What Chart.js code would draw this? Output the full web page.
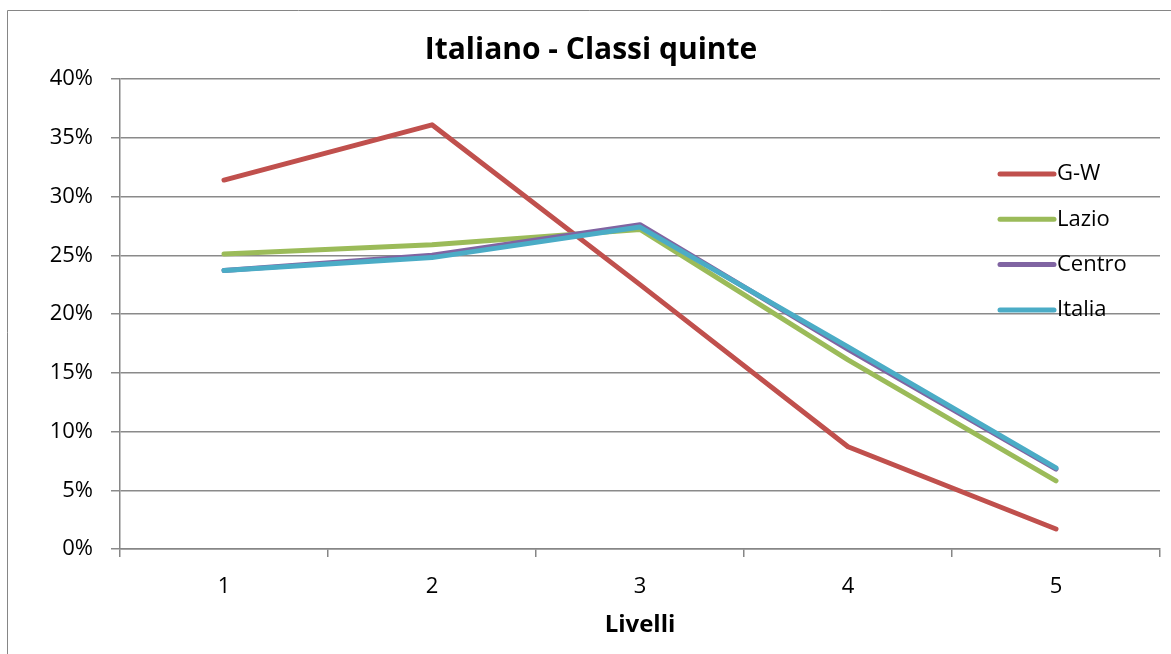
<!DOCTYPE html>
<html>
<head>
<meta charset="utf-8">
<title>Italiano - Classi quinte</title>
<script src="https://cdn.jsdelivr.net/npm/chart.js@4/dist/chart.umd.min.js"></script>
<style>
  html, body { margin: 0; padding: 0; background: #fff; }
  #wrap { position: relative; width: 1171px; height: 654px; }
</style>
</head>
<body>
<div id="wrap"><canvas id="stage"></canvas></div>
<script>
// dati (percentuali)
var livelli = ['1', '2', '3', '4', '5'];
var nomiSerie = ['G-W', 'Lazio', 'Centro', 'Italia'];
var datiGW = [31.4, 36.1, 22.5, 8.7, 1.7];
var datiLazio = [25.1, 25.9, 27.2, 16.1, 5.8];
var datiCentro = [23.7, 25.0, 27.6, 17.0, 6.8];
var datiItalia = [23.7, 24.8, 27.4, 17.2, 6.9];
var tickY = [0, 5, 10, 15, 20, 25, 30, 35, 40];

var colori = ['#C0504D', '#9BBB59', '#8064A2', '#4BACC6'];
var serie = [datiGW, datiLazio, datiCentro, datiItalia];
var FONT = 'Open Sans';

var datasets = serie.map(function(d, i) {
  return {
    label: nomiSerie[i],
    data: d,
    borderColor: colori[i],
    backgroundColor: colori[i],
    borderWidth: 5,
    pointRadius: 0,
    pointHoverRadius: 0,
    tension: 0,
    borderCapStyle: 'round',
    borderJoinStyle: 'round',
    order: serie.length - i   // Italia sopra
  };
});

// cornice grigia + legenda dentro l'area del grafico
var cornice = {
  id: 'cornice',
  afterLayout: function(chart) {
    // titolo un po' spostato a destra come nell'originale
    if (chart.titleBlock) { chart.titleBlock.left = 22; }
  },
  beforeDraw: function(chart) {
    var ctx = chart.ctx;
    ctx.save();
    ctx.fillStyle = '#fff';
    ctx.fillRect(0, 0, chart.width, chart.height);
    ctx.strokeStyle = '#868686';
    ctx.lineWidth = 1;
    ctx.beginPath();
    ctx.moveTo(7.5, chart.height + 5);
    ctx.lineTo(7.5, 10.5);
    ctx.lineTo(chart.width + 5, 10.5);
    ctx.stroke();
    ctx.restore();
  }
};

var legenda = {
  id: 'legenda',
  afterDraw: function(chart, args, opt) {
    var ctx = chart.ctx;
    ctx.save();
    ctx.font = opt.fontSize + 'px "' + FONT + '"';
    ctx.textBaseline = 'middle';
    ctx.textAlign = 'left';
    chart.data.datasets.forEach(function(ds, i) {
      var y = opt.y + i * opt.step;
      ctx.strokeStyle = ds.borderColor;
      ctx.lineWidth = 5;
      ctx.lineCap = 'round';
      ctx.beginPath();
      ctx.moveTo(opt.x, y);
      ctx.lineTo(opt.x + opt.len, y);
      ctx.stroke();
      ctx.fillStyle = '#000';
      ctx.fillText(ds.label, opt.x + opt.len + 3, y);
    });
    ctx.restore();
  }
};

var canvas = document.getElementById('stage');
var chart = new Chart(canvas, {
  type: 'line',
  data: { labels: livelli, datasets: datasets },
  plugins: [cornice, legenda],
  options: {
    responsive: true,
    maintainAspectRatio: false,
    animation: false,
    events: [],
    layout: { padding: { left: 0, right: 11, top: 0, bottom: 0 } },
    plugins: {
      legend: { display: false },
      tooltip: { enabled: false },
      title: {
        display: true,
        text: 'Italiano - Classi quinte',
        color: '#000',
        font: { family: FONT, size: 30, weight: 'bold', lineHeight: 1.2 },
        padding: { top: 32, bottom: 11 }
      },
      legenda: { x: 1000, y: 174, step: 45.3, len: 54, fontSize: 22 }
    },
    scales: {
      x: {
        offset: true,
        grid: { offset: true, drawOnChartArea: false, drawTicks: true, tickLength: 8, color: '#868686', lineWidth: 1.5 },
        border: { display: true, color: '#868686', width: 1.5 },
        ticks: { color: '#000', padding: 17, font: { family: FONT, size: 22 } },
        title: {
          display: true,
          text: 'Livelli',
          color: '#000',
          font: { family: FONT, size: 24, weight: 'bold' },
          padding: { top: 0, bottom: 14 }
        },
        afterFit: function(s) { s.height = 105; }
      },
      y: {
        min: 0,
        max: 40,
        afterBuildTicks: function(s) {
          s.ticks = tickY.map(function(v) { return { value: v }; });
        },
        grid: { color: '#8a8a8a', lineWidth: 1.5, tickLength: 9 },
        border: { display: true, color: '#868686', width: 1.5 },
        ticks: {
          color: '#000',
          padding: 18,
          font: { family: FONT, size: 22 },
          callback: function(v) { return v + '%'; }
        },
        afterFit: function(s) { s.width = 120; }
      }
    }
  }
});
</script>
</body>
</html>
